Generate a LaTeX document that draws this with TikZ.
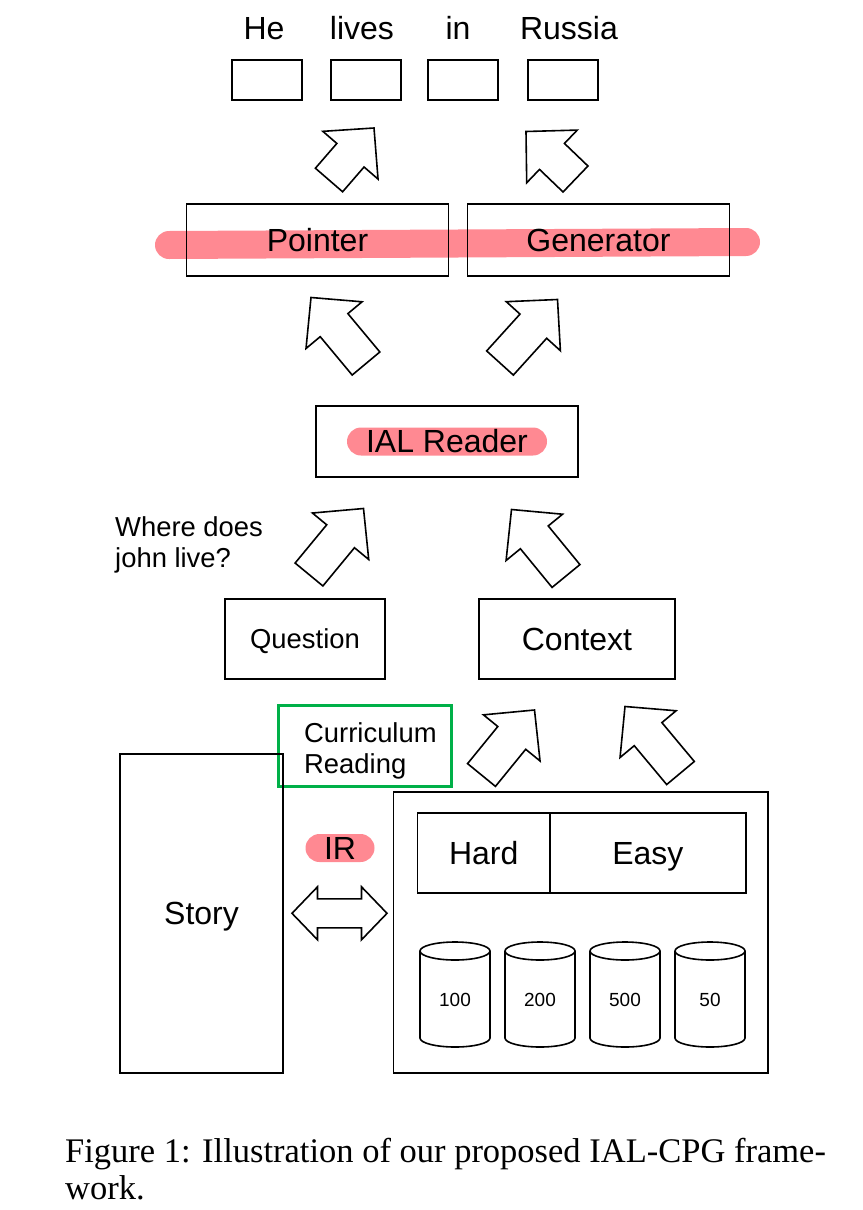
\documentclass[tikz,border=0pt]{standalone}
\usepackage{fontspec}
\setmainfont{Liberation Sans}
\newfontfamily\capfont{Liberation Serif}
\usetikzlibrary{positioning,calc,backgrounds}
\definecolor{hlpink}{RGB}{255,137,146}
\definecolor{cgreen}{RGB}{0,176,72}
\tikzset{
  bigtxt/.style={font=\fontsize{32}{38}\selectfont},
  midtxt/.style={font=\fontsize{27.4}{31}\selectfont},
  captxt/.style={font=\capfont\fontsize{34.5}{37}\selectfont},
  box/.style={draw,line width=1.6pt,inner sep=0pt,outer sep=0pt,text depth=0pt},
  slot/.style={box,minimum width=70pt,minimum height=40pt},
  word/.style={bigtxt,inner sep=0pt,text depth=0pt},
  pill/.style={bigtxt,fill=hlpink,rounded corners=14pt,minimum height=28pt,inner sep=0pt},
  band/.style={draw=hlpink,line width=28pt,line cap=round},
  fat/.style={draw,line width=1.6pt,fill=white,line join=miter},
  drum/.pic={
    \draw[line width=1.6pt,fill=white] (-35,-43.5) -- (-35,43.5) arc[start angle=180,end angle=0,x radius=35,y radius=9]
      -- (35,-43.5) arc[start angle=0,end angle=-180,x radius=35,y radius=9] -- cycle;
    \draw[line width=1.6pt] (-35,-43.5) arc[start angle=180,end angle=0,x radius=35,y radius=9];
    \node[font=\fontsize{19}{22}\selectfont] at (0,5) {#1};
  }
}
\newcommand{\fatarrow}[2]{%
  \coordinate (fa-h) at ($(#2)!36pt!(#1)$);
  \draw[fat] ($(#1)!18pt!90:(#2)$) -- ($(fa-h)!18pt!90:(#2)$) -- ($(fa-h)!36.5pt!90:(#2)$) -- (#2)
    -- ($(fa-h)!36.5pt!-90:(#2)$) -- ($(fa-h)!18pt!-90:(#2)$) -- ($(#1)!18pt!-90:(#2)$) -- cycle;}
\newcommand{\twinarrow}[2]{%
  \coordinate (ta-a) at ($(#1)!25.5pt!(#2)$);
  \coordinate (ta-b) at ($(#2)!25.5pt!(#1)$);
  \draw[fat] (#1) -- ($(ta-a)!26.5pt!90:(#2)$) -- ($(ta-a)!14.5pt!90:(#2)$) -- ($(ta-b)!14.5pt!-90:(#1)$)
    -- ($(ta-b)!26.5pt!-90:(#1)$) -- (#2) -- ($(ta-b)!26.5pt!90:(#1)$) -- ($(ta-b)!14.5pt!90:(#1)$)
    -- ($(ta-a)!14.5pt!-90:(#2)$) -- ($(ta-a)!26.5pt!-90:(#2)$) -- cycle;}

\begin{document}
\begin{tikzpicture}[x=1pt,y=-1pt]
   \useasboundingbox (0,0) rectangle (862,1210);
   \node[slot] (s1) at (267,80) {};
   \node[slot,right=29pt of s1] (s2) {};
   \node[slot,right=27pt of s2] (s3) {};
   \node[slot,right=30pt of s3] (s4) {};
   \node[word,above=20pt of s1,xshift=-3pt] (w1) {He};
   \node[word,above=20pt of s2,xshift=-4pt] (w2) {lives};
   \node[word,above=20pt of s3,xshift=-5pt] (w3) {in};
   \node[word,above=20pt of s4,xshift=6pt] (w4) {Russia};
   \node[box,bigtxt,minimum width=262pt,minimum height=72pt] (pointer) at (317.5,240) {Pointer};
   \node[box,bigtxt,minimum width=262pt,minimum height=72pt,right=19pt of pointer] (generator) {Generator};
   \begin{scope}[on background layer]
      \draw[band] ($(pointer.west)+(-17.5,5)$) -- ($(generator.east)+(16.5,2)$);
   \end{scope}
   \node[box,minimum width=262pt,minimum height=71pt] (reader) at (447,441.5) {};
   \node[pill,minimum width=200pt] (readerlbl) at (reader) {IAL Reader};
   \node[box,midtxt,minimum width=160pt,minimum height=80pt] (question) at (305,639) {Question};
   \node[box,bigtxt,minimum width=196pt,minimum height=80pt,right=94pt of question] (context) {Context};
   \node[midtxt,align=left,anchor=north west,inner sep=0pt] (ask) at (115,516) {Where does\\john live?};
   \node[box,draw=cgreen,line width=3pt,minimum width=173pt,minimum height=81pt] (curr) at (364.5,745.5) {};
   \node[midtxt,align=left,anchor=north west,inner sep=0pt] (currlbl) at (304,722) {Curriculum\\Reading};
   \node[box,bigtxt,minimum width=163pt,minimum height=319pt] (story) at (201.5,913.3) {Story};
   \node[box,minimum width=374.5pt,minimum height=281pt] (kb) at (580.75,932.5) {};
   \node[box,bigtxt,minimum width=132.5pt,minimum height=80pt] (hard) at (483.75,853) {Hard};
   \node[box,bigtxt,minimum width=195.7pt,minimum height=80pt,right=0pt of hard] (easy) {Easy};
   \pic (d1) at (455,994.5) {drum=100};
   \pic (d2) at (540,994.5) {drum=200};
   \pic (d3) at (625,994.5) {drum=500};
   \pic (d4) at (710,994.5) {drum=50};
   \node[pill,minimum width=69pt] (irlbl) at (340,848) {IR};
   \coordinate (irl) at ($(story.east)+(9,0)$);
   \coordinate (irr) at ($(irl -| kb.west)+(-6.5,0)$);
   \twinarrow{irl}{irr}
   \coordinate (t1) at (329,180);   \coordinate (h1) at (374,128);
   \coordinate (t2) at (575.5,179); \coordinate (h2) at (526,131.5);
   \coordinate (t3) at (366,363.5); \coordinate (h3) at (311,297.5);
   \coordinate (t4) at (500,363);   \coordinate (h4) at (557.5,299.5);
   \coordinate (t5) at (309,574.5); \coordinate (h5) at (363.5,508.5);
   \coordinate (t6) at (566,576);   \coordinate (h6) at (511.5,509.5);
   \coordinate (t7) at (481.5,775); \coordinate (h7) at (534.5,710);
   \coordinate (t8) at (680.5,773); \coordinate (h8) at (625,706.5);
   \fatarrow{t1}{h1}
   \fatarrow{t2}{h2}
   \fatarrow{t3}{h3}
   \fatarrow{t4}{h4}
   \fatarrow{t5}{h5}
   \fatarrow{t6}{h6}
   \fatarrow{t7}{h7}
   \fatarrow{t8}{h8}
   \node[captxt,align=left,anchor=north west,inner sep=0pt] (cap) at (65,1138)
      {Figure 1: Illustration of our proposed IAL-CPG frame-\\work.};
\end{tikzpicture}
\end{document}
